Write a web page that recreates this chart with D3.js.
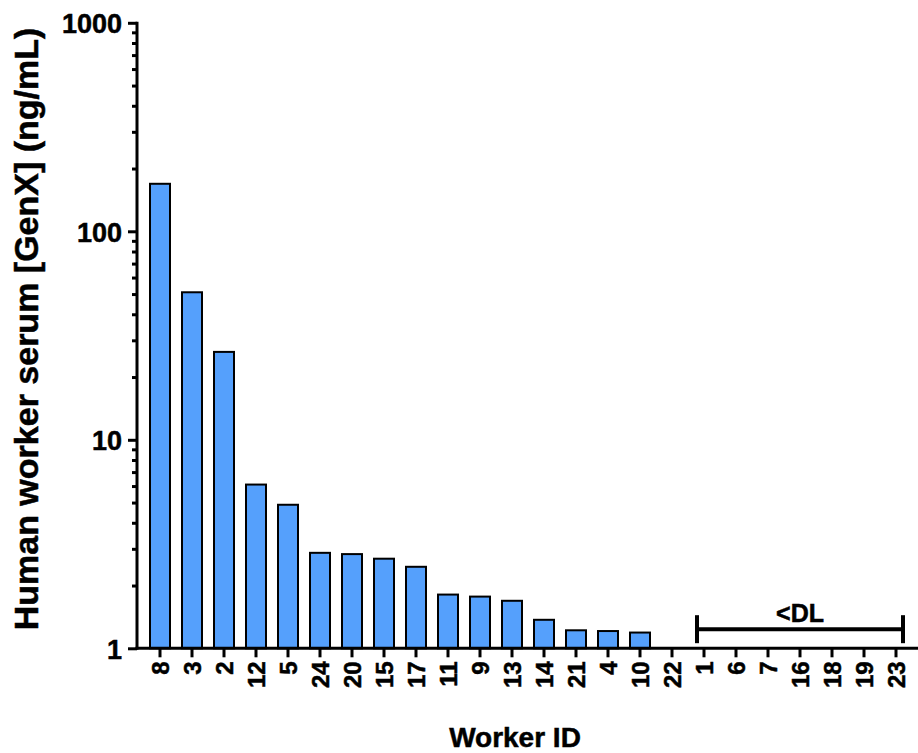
<!DOCTYPE html>
<html><head><meta charset="utf-8">
<script src="https://cdn.jsdelivr.net/npm/d3@7"></script>
<style>
body{margin:0;background:#fff;}
text{font-family:"Liberation Sans",Arial,Helvetica,sans-serif;font-weight:bold;fill:#000;stroke:#000;stroke-width:0.5px;}
</style></head>
<body><svg id="c" width="918" height="753"></svg>
<script>
const workers = ["8","3","2","12","5","24","20","15","17","11","9","13","14","21","4","10","22","1","6","7","16","18","19","23"];
const values  = [169, 51, 26.4, 6.1, 4.88, 2.87, 2.83, 2.69, 2.46, 1.81, 1.77, 1.69, 1.37, 1.22, 1.21, 1.19, null, null, null, null, null, null, null, null];
const belowDL = ["1","6","7","16","18","19","23"];
const yMajor = [1, 10, 100, 1000];
const yTitle = "Human worker serum [GenX] (ng/mL)";
const xTitle = "Worker ID";
const dlLabel = "<DL";
const dlLevel = 1.235;

const svg = d3.select("#c");
const x = d3.scaleBand().domain(workers).range([144, 912]).paddingInner(0.375).paddingOuter(0.1875);
const y = d3.scaleLog().domain([1, 1000]).range([648.3, 22.8]);

// minor ticks
const minor = [];
for (let d = 1; d < 1000; d *= 10) for (let k = 2; k <= 9; k++) minor.push(d * k);

const gy = svg.append("g").attr("transform", "translate(137,0)");
gy.call(d3.axisLeft(y).tickValues(minor).tickSize(5).tickFormat("").tickSizeOuter(0));
gy.call(g => g.select(".domain").remove());
const gy2 = svg.append("g").attr("transform", "translate(137,0)");
gy2.call(d3.axisLeft(y).tickValues(yMajor).tickSize(9).tickSizeOuter(0).tickPadding(6).tickFormat(d3.format("d")));
gy2.selectAll("text").style("font-size", "27px").attr("dy", "0.36em").attr("fill","#000");
svg.selectAll(".tick line").attr("stroke", "#000").attr("stroke-width", 3);
gy2.select(".domain").attr("stroke", "#000").attr("stroke-width", 3)
   .attr("d", `M0,${y(1)+1.5}V${y(1000)-1}`);

// bars
svg.append("g").selectAll("rect")
  .data(workers.map((w, i) => ({w, v: values[i]})).filter(d => d.v != null))
  .join("rect")
  .attr("x", d => x(d.w))
  .attr("width", x.bandwidth())
  .attr("y", d => y(d.v))
  .attr("height", d => y(1) - y(d.v))
  .attr("fill", "#55A0FC")
  .attr("stroke", "#000")
  .attr("stroke-width", 2);

// x axis
const gx = svg.append("g").attr("transform", `translate(0,${y(1)})`);
gx.call(d3.axisBottom(x).tickSize(9).tickSizeOuter(0).tickPadding(4));
gx.select(".domain").attr("stroke", "#000").attr("stroke-width", 3).attr("d", "M135.5,0H918");
gx.selectAll(".tick line").attr("stroke", "#000").attr("stroke-width", 3);
gx.selectAll("text")
  .style("font-size", "24px")
  .attr("text-anchor", "end")
  .attr("transform", "rotate(-90)")
  .attr("x", -13).attr("y", 0).attr("dy", "0.36em");

// <DL bracket
const x0 = x(belowDL[0]) + x.bandwidth()/2 - 7;
const x1 = x(belowDL[belowDL.length-1]) + x.bandwidth()/2 + 7;
const yl = y(dlLevel);
const br = svg.append("g").attr("stroke", "#000").attr("stroke-width", 4);
br.append("line").attr("x1", x0).attr("x2", x1).attr("y1", yl).attr("y2", yl);
br.append("line").attr("x1", x0).attr("x2", x0).attr("y1", yl-14).attr("y2", yl+14);
br.append("line").attr("x1", x1).attr("x2", x1).attr("y1", yl-14).attr("y2", yl+14);
svg.append("text").attr("x", (x0+x1)/2).attr("y", yl-7).attr("text-anchor","middle")
  .style("font-size","25px").text(dlLabel);

// titles
svg.append("text").attr("transform", "translate(38,329) rotate(-90)")
  .attr("text-anchor","middle").style("font-size","34px").text(yTitle);
svg.append("text").attr("x", 515).attr("y", 747).attr("text-anchor","middle")
  .style("font-size","28px").text(xTitle);
</script></body></html>
